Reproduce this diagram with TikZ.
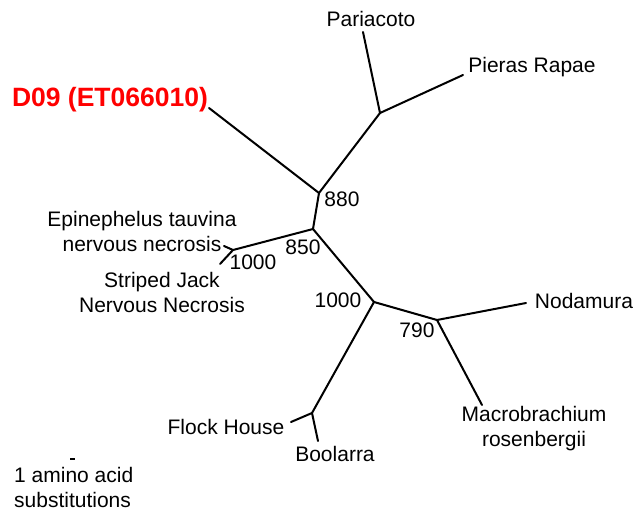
\documentclass[tikz,border=0pt]{standalone}
\usepackage{fontspec}
\setmainfont{Liberation Sans}
\begin{document}
\begin{tikzpicture}[x=1pt,y=-1pt,
  br/.style={line width=2pt,line cap=round},
  lab/.style={font=\fontsize{21}{25}\selectfont,inner sep=0pt,align=center},
  boot/.style={font=\fontsize{21}{25}\selectfont,inner sep=0pt}]
\useasboundingbox (0,0) rectangle (637,511);
% internal nodes
\coordinate (nPP) at (380,113);
\coordinate (n880) at (319,193);
\coordinate (n850) at (313,229);
\coordinate (nJ) at (233,250);
\coordinate (n1000) at (374,302);
\coordinate (n790) at (437,320);
\coordinate (nFB) at (312,413);
% tips
\coordinate (tPar) at (363,32);
\coordinate (tPie) at (463,75);
\coordinate (tD09) at (209,108);
\coordinate (tEpi) at (224,246);
\coordinate (tStr) at (220,264);
\coordinate (tNod) at (526,303);
\coordinate (tMac) at (482,405);
\coordinate (tFlo) at (291,422);
\coordinate (tBoo) at (318,441);
\coordinate (sbA) at (70,459);
\coordinate (sbB) at (75,459);
% branches
\draw[br] (nPP) -- (tPar);
\draw[br] (nPP) -- (tPie);
\draw[br] (n880) -- (nPP);
\draw[br] (n880) -- (tD09);
\draw[br] (n880) -- (n850);
\draw[br] (n850) -- (nJ);
\draw[br] (nJ) -- (tEpi);
\draw[br] (nJ) -- (tStr);
\draw[br] (n850) -- (n1000);
\draw[br] (n1000) -- (n790);
\draw[br] (n790) -- (tNod);
\draw[br] (n790) -- (tMac);
\draw[br] (n1000) -- (nFB);
\draw[br] (nFB) -- (tFlo);
\draw[br] (nFB) -- (tBoo);
\draw[line width=1.5pt] (sbA) -- (sbB);
% labels
\node[lab] (lPar) at (371,19) {Pariacoto};
\node[lab] (lPie) at (532,67) {Pieras Rapae};
\node[lab,text=red,font=\fontsize{26.5}{30}\selectfont\bfseries] (lD09) at (110,100) {D09 (ET066010)};
\node[lab] (lEpi) at (142,231) {Epinephelus tauvina\\nervous necrosis};
\node[lab] (lStr) at (162,292) {Striped Jack\\Nervous Necrosis};
\node[lab] (lNod) at (584,301) {Nodamura};
\node[lab] (lMac) at (534,429) {Macrobrachium\\rosenbergii};
\node[lab] (lFlo) at (226,427) {Flock House};
\node[lab] (lBoo) at (335,454) {Boolarra};
\node[lab,align=left,anchor=west] (lSc) at (14,487) {1 amino acid\\substitutions};
% bootstrap values
\node[boot] (b880) at (342,199) {880};
\node[boot] (b850) at (303,247) {850};
\node[boot] (b1000a) at (253,262) {1000};
\node[boot] (b1000b) at (338,300) {1000};
\node[boot] (b790) at (417,330) {790};
\end{tikzpicture}
\end{document}
